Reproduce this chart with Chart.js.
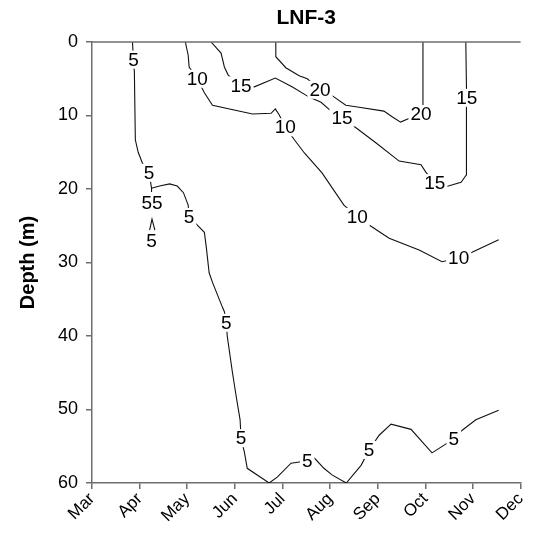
<!DOCTYPE html>
<html>
<head>
<meta charset="utf-8">
<script src="https://cdn.jsdelivr.net/npm/chart.js@4.4.1/dist/chart.umd.min.js"></script>
<style>
  html, body { margin: 0; padding: 0; background: #fff; }
  #wrap { width: 535px; height: 542px; }
</style>
</head>
<body>
<div id="wrap"><canvas id="chart"></canvas></div>
<script>
// x = months after Mar (Mar = 0), y = depth in m
const months = ["Mar", "Apr", "May", "Jun", "Jul", "Aug", "Sep", "Oct", "Nov", "Dec"];

// contour lines, [month, depth]
const contour5a = [[0.85,0],[0.87,2.4],[0.89,4.1],[0.91,13.3],[0.97,15.0],[1.06,16.5],[1.20,17.8],[1.25,19.9],[1.25,20.4]];
const contour5b = [[1.25,19.9],[1.42,19.6],[1.63,19.3],[1.79,19.6],[1.92,20.5],[2.02,22.2],[2.04,23.8],[2.15,24.5],
  [2.36,25.9],[2.40,27.9],[2.46,31.4],[2.53,32.7],[2.74,36.1],[2.78,36.7],[2.82,38.2],[2.84,40.0],[2.95,45.0],
  [3.03,48.3],[3.11,51.4],[3.13,53.9],[3.20,55.8],[3.26,58.0],[3.72,60],[3.89,59.2],[4.18,57.3],[4.39,57.1],
  [4.52,57.0],[4.67,56.6],[4.87,58.0],[5.04,58.9],[5.34,60],[5.65,57.6],[5.82,55.5],[6.03,53.5],[6.28,52.0],
  [6.70,52.7],[7.14,55.9],[7.60,54.0],[7.70,53.2],[8.06,51.4],[8.54,50.1]];
const contour5c = [[1.21,25.6],[1.26,24.1],[1.32,25.6]];
const contour10 = [[1.96,0],[2.02,1.8],[2.04,3.4],[2.21,5.0],[2.36,6.9],[2.53,8.6],[3.37,9.8],[3.76,9.7],[3.85,9.1],
  [3.93,9.9],[4.06,11.6],[4.25,13.3],[4.46,15.1],[4.83,17.8],[5.29,22.2],[5.57,23.8],[5.82,24.9],[6.24,26.7],
  [6.87,28.3],[7.35,29.9],[7.70,29.4],[7.98,28.6],[8.54,26.9]];
const contour15 = [[2.50,0],[2.71,1.5],[2.78,3.4],[2.86,4.5],[3.13,5.9],[3.41,6.1],[3.85,4.9],[4.20,6.1],[4.56,7.5],
  [4.81,8.2],[5.02,9.4],[5.25,10.3],[5.55,11.7],[5.96,13.7],[6.45,16.2],[6.91,16.7],[7.01,17.7],[7.20,19.2],
  [7.43,19.7],[7.75,19.1],[7.86,18.1],[7.86,9.3],[7.87,7.6],[7.86,6.1],[7.85,0]];
const contour20 = [[3.86,0],[3.86,2.0],[4.07,3.5],[4.35,4.6],[4.52,5.0],[4.79,6.5],[5.02,7.2],[5.33,8.6],[5.54,8.8],
  [6.13,9.4],[6.31,10.2],[6.48,10.9],[6.69,10.3],[6.91,9.8],[6.95,8.8],[6.95,0]];

// contour labels, [month, depth, text]
const contourLabels = [
  [0.87,2.4,"5"],[1.20,17.8,"5"],[1.26,21.9,"55"],[1.25,27.1,"5"],[2.04,23.8,"5"],[2.82,38.2,"5"],
  [3.13,53.9,"5"],[4.52,57.0,"5"],[5.82,55.5,"5"],[7.60,54.0,"5"],
  [2.21,5.0,"10"],[4.06,11.6,"10"],[5.57,23.8,"10"],[7.70,29.4,"10"],
  [3.13,5.9,"15"],[5.25,10.3,"15"],[7.20,19.2,"15"],[7.87,7.6,"15"],
  [4.79,6.5,"20"],[6.91,9.8,"20"]
];

const FONT = "'Liberation Sans', Arial, sans-serif";
const AXIS_GREY = "#6e6e6e";

function toPoints(arr) {
  return arr.map(p => ({ x: p[0], y: p[1] }));
}

function lineSet(arr) {
  return {
    data: toPoints(arr),
    borderColor: "#111",
    borderWidth: 1.1,
    pointRadius: 0,
    tension: 0,
    fill: false
  };
}

const contourLabelPlugin = {
  id: "contourLabels",
  afterDatasetsDraw(chart) {
    const { ctx, scales } = chart;
    ctx.save();
    ctx.font = "19px " + FONT;
    ctx.textAlign = "center";
    ctx.textBaseline = "middle";
    contourLabels.forEach(([m, d, txt]) => {
      const px = scales.x.getPixelForValue(m);
      const py = scales.y.getPixelForValue(d);
      const w = ctx.measureText(txt).width;
      ctx.fillStyle = "#fff";
      ctx.fillRect(px - w / 2 - 2, py - 9, w + 4, 18);
      ctx.fillStyle = "#000";
      ctx.fillText(txt, px, py + 1);
    });
    ctx.restore();
  }
};

const frameAndTitle = {
  id: "frameAndTitle",
  afterDraw(chart) {
    const { ctx, chartArea } = chart;
    ctx.save();
    ctx.strokeStyle = AXIS_GREY;
    ctx.lineWidth = 1.5;
    ctx.beginPath();
    ctx.moveTo(chartArea.left, chartArea.top);
    ctx.lineTo(chartArea.right, chartArea.top);
    ctx.stroke();
    ctx.fillStyle = "#000";
    ctx.font = "bold 21px " + FONT;
    ctx.textAlign = "center";
    ctx.textBaseline = "middle";
    ctx.fillText("LNF-3", (chartArea.left + chartArea.right) / 2, 18);
    ctx.restore();
  }
};

new Chart(document.getElementById("chart"), {
  type: "line",
  data: {
    datasets: [contour5a, contour5b, contour5c, contour10, contour15, contour20].map(lineSet)
  },
  options: {
    responsive: true,
    maintainAspectRatio: false,
    animation: false,
    layout: { padding: { top: 42, right: 13, left: 0, bottom: 0 } },
    plugins: {
      legend: { display: false },
      tooltip: { enabled: false }
    },
    scales: {
      x: {
        type: "linear",
        min: 0,
        max: 9,
        border: { color: AXIS_GREY, width: 1.5 },
        grid: { drawOnChartArea: false, color: AXIS_GREY, lineWidth: 1.5, tickLength: 6 },
        ticks: {
          stepSize: 1,
          maxRotation: 45,
          minRotation: 45,
          color: "#000",
          font: { family: FONT, size: 17 },
          padding: 0,
          callback: (v) => months[v]
        },
        afterFit: (s) => { s.height = 59; }
      },
      y: {
        reverse: true,
        min: 0,
        max: 60,
        border: { color: AXIS_GREY, width: 1.5 },
        grid: { drawOnChartArea: false, color: AXIS_GREY, lineWidth: 1.5, tickLength: 6 },
        ticks: {
          stepSize: 10,
          color: "#000",
          font: { family: FONT, size: 18 },
          padding: 8
        },
        title: {
          display: true,
          text: "Depth (m)",
          color: "#000",
          font: { family: FONT, size: 20, weight: "bold" },
          padding: { top: 16, bottom: 0 }
        },
        afterFit: (s) => { s.width = 92; }
      }
    }
  },
  plugins: [contourLabelPlugin, frameAndTitle]
});
</script>
</body>
</html>
